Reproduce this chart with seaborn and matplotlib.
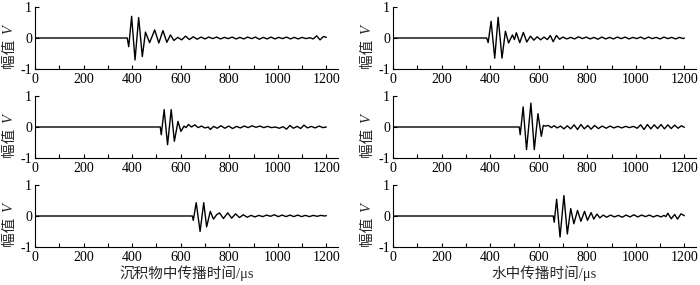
import numpy as np
import matplotlib
matplotlib.use("Agg")
import matplotlib.pyplot as plt
import seaborn as sns
from matplotlib.ticker import MultipleLocator

# sediment, row 1
sed1_t = [0, 380, 386, 398, 412, 427, 442, 455, 472, 493, 510, 527, 543, 558, 572,
          588, 604, 620, 636, 652, 668, 684, 700, 716, 732, 748, 764, 780, 796, 812,
          828, 844, 860, 876, 892, 908, 924, 940, 956, 972, 988, 1004, 1020, 1036,
          1052, 1068, 1084, 1100, 1116, 1132, 1146, 1160, 1174, 1188, 1200]
sed1_v = [0, 0, -0.28, 0.70, -0.71, 0.66, -0.60, 0.19, -0.15, 0.26, -0.16, 0.24, -0.14, 0.10, -0.08,
          0.02, -0.06, 0.06, -0.05, 0.04, -0.04, 0.03, -0.03, 0.03, -0.02, 0.03, -0.03, 0.02, -0.02, 0.03,
          -0.03, 0.02, -0.03, 0.03, -0.02, 0.03, -0.04, 0.02, -0.03, 0.03, -0.03, 0.02, -0.02, 0.03,
          -0.03, 0.02, -0.03, 0.02, -0.02, 0.01, -0.03, 0.07, -0.06, 0.05, 0.02]

# water, row 1
wat1_t = [0, 386, 392, 404, 419, 433, 449, 463, 476, 492, 500, 508, 522, 537, 551,
          566, 580, 594, 608, 622, 636, 648, 660, 673, 686,
          700, 716, 732, 748, 764, 780, 796, 812, 828, 844, 860, 876, 892, 908, 924, 940,
          956, 972, 988, 1004, 1020, 1036, 1052, 1068, 1084, 1100, 1116, 1132, 1148, 1164,
          1180, 1196, 1200]
wat1_v = [0, 0, -0.15, 0.54, -0.65, 0.67, -0.65, 0.22, -0.16, 0.10, -0.05, 0.17, -0.15, 0.18, -0.13,
          0.06, -0.07, 0.04, -0.06, 0.03, -0.05, 0.08, -0.12, 0.08, -0.04,
          0.03, -0.03, 0.02, -0.03, 0.04, -0.02, 0.03, -0.03, 0.02, -0.04, 0.03, -0.03, 0.02, -0.03, 0.03, -0.02,
          0.03, -0.03, 0.02, -0.02, 0.03, -0.03, 0.03, -0.02, 0.02, -0.03, 0.03, -0.02, 0.02, -0.03,
          0.02, -0.02, 0.0]

# sediment, row 2
sed2_t = [0, 516, 520, 532, 546, 561, 574, 589, 601, 614, 622, 632, 645, 658, 672, 686,
          700, 714, 722, 736, 750, 766, 782, 798, 814, 830, 846, 862, 878, 894, 910,
          926, 942, 958, 974, 990, 1006, 1022, 1036, 1050, 1064, 1080, 1094, 1108, 1122,
          1138, 1154, 1170, 1186, 1200]
sed2_v = [0, 0, -0.25, 0.56, -0.57, 0.56, -0.46, 0.18, -0.14, 0.03, -0.02, 0.08, 0.0, 0.07, -0.02, 0.03,
          -0.03, 0.0, -0.08, 0.02, -0.04, 0.04, -0.04, 0.03, -0.05, 0.02, -0.03, 0.03, -0.02, 0.04, -0.01,
          0.03, -0.02, 0.02, -0.02, 0.0, -0.04, 0.01, -0.07, 0.05, -0.04, 0.02, -0.05, 0.06, -0.03,
          0.02, -0.03, 0.03, -0.02, 0.0]

# water, row 2
wat2_t = [0, 520, 524, 536, 550, 568, 582, 597, 611, 619, 628, 640, 652, 664, 676, 690,
          704, 718, 732, 746, 760, 774, 788, 802, 816, 830, 846, 862, 878, 894, 910,
          926, 942, 958, 974, 990, 1006, 1020, 1034, 1048, 1062, 1076, 1090, 1104, 1118,
          1132, 1146, 1160, 1174, 1188, 1200]
wat2_v = [0, 0, -0.25, 0.65, -0.73, 0.77, -0.73, 0.43, -0.30, 0.05, 0.03, 0.05, -0.02, 0.04, -0.03, 0.03,
          -0.06, 0.04, -0.06, 0.07, -0.08, 0.08, -0.06, 0.05, -0.07, 0.05, -0.05, 0.03, -0.04, 0.03, -0.03,
          0.02, -0.03, 0.02, -0.02, 0.02, -0.04, 0.07, -0.08, 0.08, -0.06, 0.07, -0.05, 0.08, -0.06,
          0.07, -0.05, 0.06, -0.04, 0.04, -0.01]

# sediment, row 3
sed3_t = [0, 648, 652, 664, 680, 695, 707, 722, 735, 748, 760, 776, 794, 810, 826, 842,
          858, 874, 890, 906, 922, 938, 954, 970, 986, 1002, 1018, 1034, 1050, 1066,
          1082, 1098, 1114, 1130, 1146, 1162, 1178, 1192, 1200]
sed3_v = [0, 0, -0.14, 0.43, -0.50, 0.43, -0.35, 0.15, -0.10, 0.04, 0.10, -0.08, 0.10, -0.07, 0.07, -0.05,
          0.04, -0.04, 0.02, -0.03, 0.02, -0.02, 0.03, -0.01, 0.04, -0.02, 0.03, -0.02, 0.03, -0.02,
          0.03, -0.02, 0.02, -0.02, 0.02, -0.01, 0.02, 0.0, 0.01]

# water, row 3
wat3_t = [0, 660, 664, 674, 688, 704, 718, 732, 745, 760, 774, 789, 801, 816, 827, 840,
          852, 866, 880, 896, 912, 928, 944, 960, 976, 992, 1008, 1024, 1040, 1056,
          1072, 1088, 1104, 1116, 1124, 1132, 1146, 1160, 1172, 1186, 1200]
wat3_v = [0, 0, -0.20, 0.54, -0.68, 0.66, -0.58, 0.24, -0.25, 0.18, -0.17, 0.15, -0.14, 0.11, -0.10, 0.06,
          -0.06, 0.03, -0.04, 0.03, -0.03, 0.02, -0.04, 0.03, -0.03, 0.04, -0.03, 0.03, -0.02, 0.03,
          -0.03, 0.02, -0.03, 0.02, -0.02, 0.09, -0.09, 0.05, -0.10, 0.07, 0.01]

x_ticks = [0, 200, 400, 600, 800, 1000, 1200]
y_ticks = [-1, 0, 1]
xlabels = ["沉积物中传播时间/μs", "水中传播时间/μs"]


def style_axis(ax):
	ax.set_xlim(0, 1248)
	ax.set_ylim(-1, 1)
	ax.set_xticks(x_ticks)
	ax.set_yticks(y_ticks)
	ax.xaxis.set_minor_locator(MultipleLocator(100))
	ax.spines['top'].set_visible(False)
	ax.spines['right'].set_visible(False)
	for s in ['left', 'bottom']:
		ax.spines[s].set_linewidth(0.8)
		ax.spines[s].set_color('black')
	ax.tick_params(which='both', direction='in', length=3, width=0.8, colors='black',
				   labelsize=10, top=False, right=False)
	ax.tick_params(axis='x', pad=3)
	ax.tick_params(axis='y', pad=2)
	ax.set_xlabel('')
	ax.set_ylabel('')
	ax.text(-0.086, 0.01, '幅值', rotation=90, transform=ax.transAxes,
			ha='center', va='bottom', fontsize=10.5)
	ax.text(-0.086, 0.56, 'V', rotation=90, transform=ax.transAxes,
			ha='center', va='bottom', fontsize=10.5, fontstyle='italic',
			family='Liberation Serif')


def main():
	sns.set_style("ticks")
	plt.rcParams['font.family'] = ['Liberation Serif', 'Noto Sans CJK SC']
	plt.rcParams['axes.unicode_minus'] = False

	fig = plt.figure(figsize=(7, 2.85), dpi=100)
	lefts = [35 / 700, 393 / 700]
	width = 303 / 700
	bottoms = [1 - 69 / 285, 1 - 158 / 285, 1 - 247 / 285]
	height = 62 / 285

	series = [[(sed1_t, sed1_v), (wat1_t, wat1_v)],
			  [(sed2_t, sed2_v), (wat2_t, wat2_v)],
			  [(sed3_t, sed3_v), (wat3_t, wat3_v)]]

	for r in range(3):
		for c in range(2):
			ax = fig.add_axes([lefts[c], bottoms[r], width, height])
			t, v = series[r][c]
			sns.lineplot(x=t, y=v, ax=ax, color='black', linewidth=1.0,
						 estimator=None, sort=False, solid_joinstyle='round')
			style_axis(ax)
			if r == 2:
				ax.set_xlabel(xlabels[c], fontsize=10.5, labelpad=0.5)

	fig.savefig("out.png", dpi=100)


if __name__ == "__main__":
	main()
